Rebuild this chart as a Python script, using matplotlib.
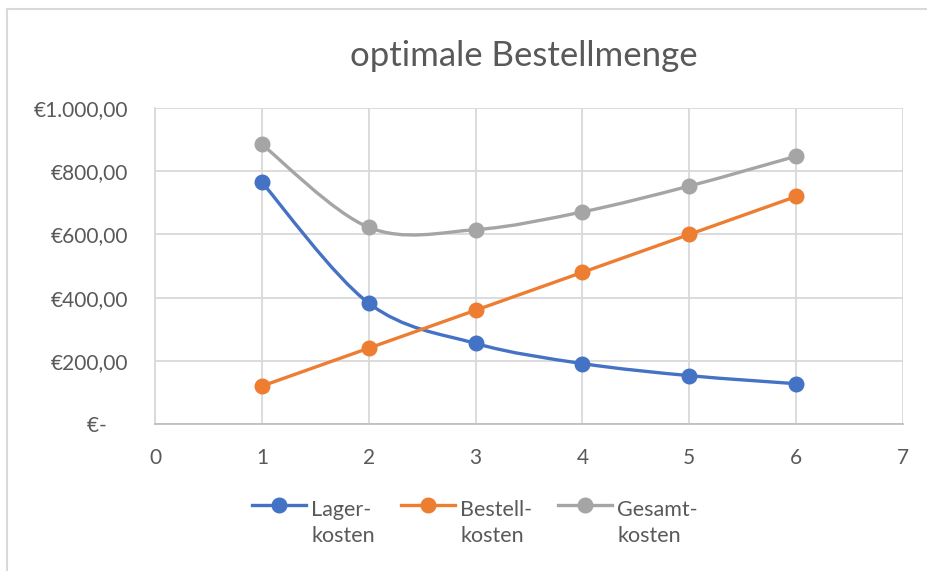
import matplotlib
matplotlib.use("Agg")
import matplotlib.pyplot as plt
import numpy as np
from matplotlib.path import Path
from matplotlib.patches import PathPatch
from matplotlib.lines import Line2D
from matplotlib.legend_handler import HandlerLine2D
from matplotlib.ticker import FuncFormatter

plt.rcParams['font.family'] = ['Lato', 'DejaVu Sans']

# data
menge = [1, 2, 3, 4, 5, 6]
lagerkosten = [765.0, 382.5, 255.0, 191.25, 153.0, 127.5]
bestellkosten = [120.0, 240.0, 360.0, 480.0, 600.0, 720.0]
gesamtkosten = [885.0, 622.5, 615.0, 671.25, 753.0, 847.5]
labels = ["Lager-\nkosten", "Bestell-\nkosten", "Gesamt-\nkosten"]
colors = ["#4472C4", "#ED7D31", "#A5A5A5"]

TXT = "#595959"
GRID = "#D9D9D9"


def smooth_path(x, y):
    # catmull-rom style bezier like excel's smoothed lines
    pts = np.column_stack([x, y]).astype(float)
    n = len(pts)
    verts = [pts[0]]
    codes = [Path.MOVETO]
    for i in range(n - 1):
        p0 = pts[max(i - 1, 0)]
        p1 = pts[i]
        p2 = pts[i + 1]
        p3 = pts[min(i + 2, n - 1)]
        c1 = p1 + (p2 - p0) / 6.0
        c2 = p2 - (p3 - p1) / 6.0
        verts += [c1, c2, p2]
        codes += [Path.CURVE4] * 3
    return Path(verts, codes)


class TopHandler(HandlerLine2D):
    def create_artists(self, legend, orig_handle, xdescent, ydescent,
                       width, height, fontsize, trans):
        arts = super().create_artists(legend, orig_handle, xdescent, ydescent,
                                      width, height, fontsize, trans)
        for a in arts:
            a.set_ydata(np.asarray(a.get_ydata()) + fontsize * 0.85)
        return arts


fig = plt.figure(figsize=(9.27, 5.71), dpi=100)
ax = fig.add_axes([155 / 927, 1 - 424 / 571, 748 / 927, 316 / 571])

handles = []
for ys, c in zip([lagerkosten, bestellkosten, gesamtkosten], colors):
    ax.add_patch(PathPatch(smooth_path(menge, ys), fill=False, ec=c, lw=2.4,
                           zorder=3, capstyle='round'))
    ax.plot(menge, ys, 'o', color=c, markersize=10.5, zorder=4)
    handles.append(Line2D([], [], color=c, lw=2.4, marker='o', markersize=10.5))

ax.set_xlim(0, 7)
ax.set_ylim(0, 1000)
ax.set_xticks(range(0, 8))
ax.set_yticks(range(0, 1001, 200))


def euro(v, pos):
    if v == 0:
        return "€-    "
    s = f"{v:,.2f}".replace(",", "X").replace(".", ",").replace("X", ".")
    return "€" + s


ax.yaxis.set_major_formatter(FuncFormatter(euro))
ax.tick_params(axis='both', length=0, labelsize=15, labelcolor=TXT)
ax.tick_params(axis='y', pad=19)
ax.tick_params(axis='x', pad=17)
ax.grid(True, color=GRID, lw=1.3)
ax.set_axisbelow(True)
for s in ['top', 'right', 'left']:
    ax.spines[s].set_visible(False)
ax.spines['bottom'].set_color("#BFBFBF")
ax.spines['bottom'].set_linewidth(1.3)
ax.spines['left'].set_visible(True)
ax.spines['left'].set_color(GRID)
ax.spines['left'].set_linewidth(1.3)

fig.text(524 / 927, 1 - 56 / 571, "optimale Bestellmenge", ha='center', va='center',
         fontsize=25, color=TXT)

leg = fig.legend(handles, labels, loc='center', bbox_to_anchor=(475 / 927, 1 - 523 / 571),
                 ncol=3, frameon=False, fontsize=15.5, labelcolor=TXT,
                 handlelength=2.5, handletextpad=0.25, columnspacing=1.2,
                 handler_map={Line2D: TopHandler()})
for t in leg.get_texts():
    t.set_linespacing(1.4)

# chart border (only top and left visible)
fig.add_artist(Line2D([7 / 927, 1], [1 - 9 / 571, 1 - 9 / 571], color=GRID, lw=1.5,
                      transform=fig.transFigure))
fig.add_artist(Line2D([7 / 927, 7 / 927], [0, 1 - 9 / 571], color=GRID, lw=1.5,
                      transform=fig.transFigure))

fig.savefig("out.png", dpi=100)
